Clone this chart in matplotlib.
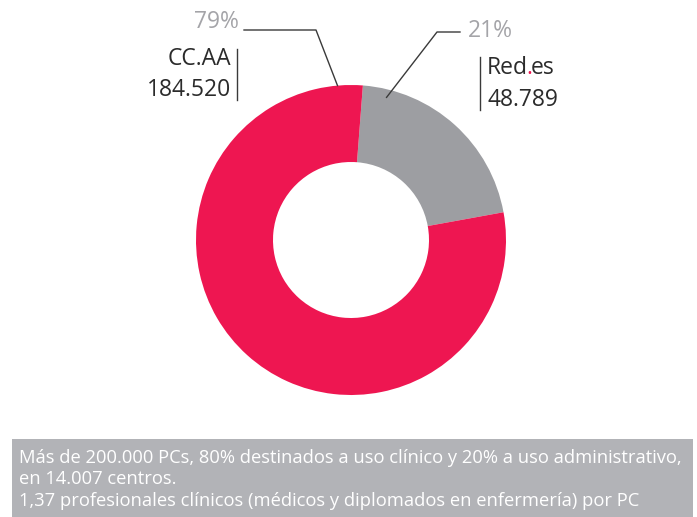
import numpy as np
import matplotlib.pyplot as plt
from matplotlib.patches import Rectangle

# datos
labels = ["Red.es", "CC.AA"]
values = [48789, 184520]
pct_text = ["21%", "79%"]
colors = ["#9d9ea2", "#ee1651"]
note_lines = [
    "Más de 200.000 PCs, 80% destinados a uso clínico y 20% a uso administrativo,",
    "en 14.007 centros.",
    "1,37 profesionales clínicos (médicos y diplomados en enfermería) por PC",
]

W, H = 697, 517
plt.rcParams['font.family'] = ['Open Sans', 'DejaVu Sans']
fig = plt.figure(figsize=(W / 100, H / 100), dpi=100)
ax = fig.add_axes([0, 0, 1, 1])

cx, cy, r = 351, H - 240, 155
ax.pie(values, colors=colors, startangle=85.6, counterclock=False,
       center=(cx, cy), radius=r, wedgeprops=dict(width=77, linewidth=0))
ax.set_xlim(0, W)
ax.set_ylim(0, H)
ax.set_aspect('equal')
ax.axis('off')

def Y(y):
    return H - y

lc = "#3a3a3a"
dark = "#2b2b2b"
light = "#a4a4a8"

# CC.AA label
ang = np.radians(95)
ax.plot([244, 316, cx + r * np.cos(ang)], [Y(30), Y(30), cy + r * np.sin(ang)],
        color=lc, lw=1)
ax.text(239, Y(22), pct_text[1], color=light, fontsize=16.5, ha='right', va='center')
ax.text(231, Y(59), labels[1], color=dark, fontsize=16.5, ha='right', va='center')
ax.text(231, Y(90), f"{values[1]:,}".replace(",", "."), color=dark, fontsize=16.5,
        ha='right', va='center')
ax.plot([237, 237], [Y(49), Y(100)], color=lc, lw=1)

# Red.es label
ang = np.radians(76)
ax.plot([460, 437, cx + 147 * np.cos(ang)], [Y(32), Y(32), cy + 147 * np.sin(ang)],
        color=lc, lw=1)
ax.text(468, Y(31), pct_text[0], color=light, fontsize=16.5, ha='left', va='center')
ax.plot([480, 480], [Y(57), Y(110)], color=lc, lw=1)

renderer = fig.canvas.get_renderer()
x = 487
for part, col in [("Red", dark), (".", colors[1]), ("es", dark)]:
    t = ax.text(x, Y(68), part, color=col, fontsize=16.5, ha='left', va='center')
    bb = t.get_window_extent(renderer=renderer)
    x += bb.width - 1.5
ax.text(487, Y(100), f"{values[0]:,}".replace(",", "."), color=dark, fontsize=16.5,
        ha='left', va='center')

# caja inferior
ax.add_patch(Rectangle((12, 0), 681, Y(439), color="#b2b3b7", lw=0))
for i, line in enumerate(note_lines):
    ax.text(19, Y(458 + 21.5 * i), line, color="white", fontsize=13.2,
            ha='left', va='center')

fig.savefig("out.png", dpi=100)
